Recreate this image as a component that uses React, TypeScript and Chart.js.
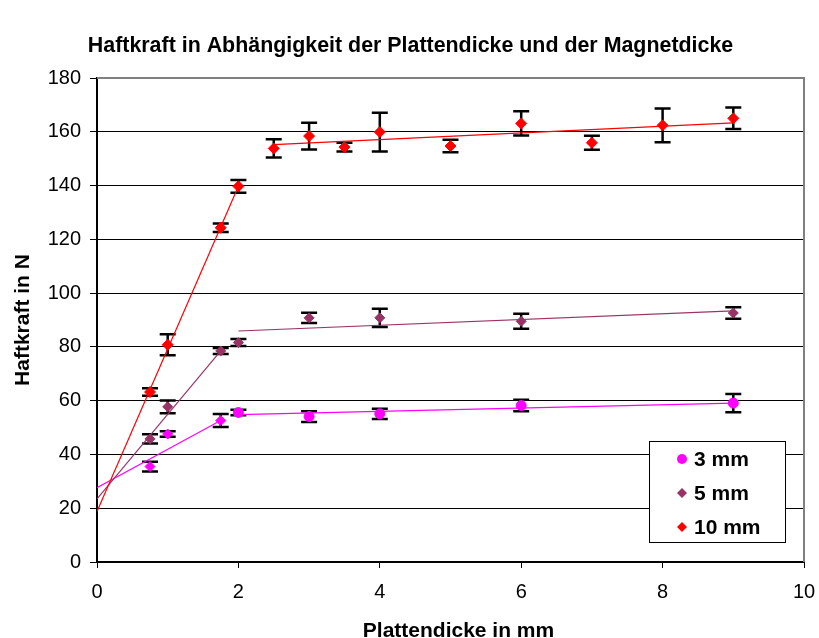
import React, { useEffect, useRef } from 'react';
import { Chart, registerables } from 'chart.js';

Chart.register(...registerables);

const FONT = "Arial, 'Liberation Sans', Helvetica, sans-serif";

const TITLE = 'Haftkraft in Abhängigkeit der Plattendicke und der Magnetdicke';
const X_TITLE = 'Plattendicke in mm';
const Y_TITLE = 'Haftkraft in N';

const SERIES_LABELS = ['3 mm', '5 mm', '10 mm'];
const SERIES_COLORS = ['#FF00FF', '#993366', '#FF0000'];

// Axis ranges / ticks
const X_TICKS = [0, 2, 4, 6, 8, 10];
const Y_TICKS = [0, 20, 40, 60, 80, 100, 120, 140, 160, 180];

// Magnet 3 mm: plate thickness (mm), holding force (N), standard deviation (N)
const thickness3 = [0.75, 1, 1.75, 2, 3, 4, 6, 9];
const force3 = [35.5, 47.6, 52.6, 55.6, 54.1, 55.1, 58.2, 59.1];
const err3 = [1.8, 1.0, 2.4, 1.0, 2.0, 1.9, 2.1, 3.4];
const marker3 = ['rectRot', 'rectRot', 'rectRot', 'circle', 'circle', 'circle', 'circle', 'circle'];

// Magnet 5 mm
const thickness5 = [0.75, 1, 1.75, 2, 3, 4, 6, 9];
const force5 = [45.8, 57.7, 78.5, 81.6, 90.8, 90.8, 89.5, 92.6];
const err5 = [1.7, 2.4, 1.1, 1.3, 1.9, 3.4, 2.8, 2.1];

// Magnet 10 mm
const thickness10 = [0.75, 1, 1.75, 2, 2.5, 3, 3.5, 4, 5, 6, 7, 8, 9];
const force10 = [63.2, 80.8, 124.3, 139.7, 153.8, 158.4, 154.3, 159.9, 154.7, 163.1, 155.9, 162.4, 165.0];
const err10 = [1.4, 3.9, 1.6, 2.4, 3.4, 5.0, 1.6, 7.2, 2.3, 4.5, 2.6, 6.3, 4.0];

// Linear trend segments: [x start, y start, x end, y end]
const trend3 = [
  [0, 27.6, 1.75, 52.6],
  [2, 54.8, 9, 59.1],
];
const trend5 = [
  [0, 23.5, 1.75, 78.5],
  [2, 85.9, 9, 93.4],
];
const trend10 = [
  [0, 18.8, 2, 139.7],
  [2.5, 155.2, 9, 163.3],
];

const toPoints = (xs: number[], ys: number[]) => xs.map((x, i) => ({ x, y: ys[i] }));

const errorBarPlugin = {
  id: 'errorBars',
  beforeDatasetsDraw(chart: any) {
    const { ctx, scales } = chart;
    const xs = scales.x;
    const ys = scales.y;
    ctx.save();
    ctx.strokeStyle = '#000';
    ctx.lineWidth = 2.5;
    chart.data.datasets.forEach((ds: any) => {
      if (!ds.errors) return;
      ds.data.forEach((p: any, i: number) => {
        const e = ds.errors[i];
        const px = xs.getPixelForValue(p.x);
        const top = ys.getPixelForValue(p.y + e);
        const bot = ys.getPixelForValue(p.y - e);
        const cap = 8;
        ctx.beginPath();
        ctx.moveTo(px, top);
        ctx.lineTo(px, bot);
        ctx.moveTo(px - cap, top);
        ctx.lineTo(px + cap, top);
        ctx.moveTo(px - cap, bot);
        ctx.lineTo(px + cap, bot);
        ctx.stroke();
      });
    });
    ctx.restore();
  },
};

const frameAndLegendPlugin = {
  id: 'frameAndLegend',
  beforeDatasetsDraw(chart: any) {
    const { ctx, chartArea } = chart;
    ctx.save();
    ctx.strokeStyle = '#808080';
    ctx.lineWidth = 2;
    ctx.beginPath();
    ctx.moveTo(chartArea.left, chartArea.top);
    ctx.lineTo(chartArea.right, chartArea.top);
    ctx.lineTo(chartArea.right, chartArea.bottom);
    ctx.stroke();
    ctx.restore();
  },
  afterDraw(chart: any) {
    const { ctx, chartArea, width } = chart;
    ctx.save();
    ctx.fillStyle = '#000';

    // chart title
    ctx.font = `bold 21.4px ${FONT}`;
    ctx.textAlign = 'center';
    ctx.textBaseline = 'middle';
    ctx.fillText(TITLE, width / 2 + 1, 46);

    // x axis title
    ctx.font = `bold 21px ${FONT}`;
    ctx.textAlign = 'center';
    ctx.textBaseline = 'alphabetic';
    ctx.fillText(X_TITLE, (chartArea.left + chartArea.right) / 2 + 8, 637);

    // legend box
    const bx = 649.5;
    const by = 441.5;
    const bw = 136;
    const bh = 101;
    ctx.fillStyle = '#fff';
    ctx.fillRect(bx, by, bw, bh);
    ctx.strokeStyle = '#000';
    ctx.lineWidth = 1;
    ctx.strokeRect(bx, by, bw, bh);

    const styles = ['circle', 'rectRot', 'rectRot'];
    SERIES_LABELS.forEach((label, i) => {
      const cy = 459 + i * 34;
      const cx = 682;
      ctx.fillStyle = SERIES_COLORS[i];
      ctx.beginPath();
      if (styles[i] === 'circle') {
        ctx.arc(cx, cy, 5, 0, Math.PI * 2);
      } else {
        const r = 5;
        ctx.moveTo(cx, cy - r);
        ctx.lineTo(cx + r, cy);
        ctx.lineTo(cx, cy + r);
        ctx.lineTo(cx - r, cy);
        ctx.closePath();
      }
      ctx.fill();
      ctx.fillStyle = '#000';
      ctx.font = `bold 21px ${FONT}`;
      ctx.textAlign = 'left';
      ctx.textBaseline = 'middle';
      ctx.fillText(label, 694, cy + 1);
    });
    ctx.restore();
  },
};

const trendDataset = (seg: number[], color: string) => ({
  type: 'line' as const,
  data: [
    { x: seg[0], y: seg[1] },
    { x: seg[2], y: seg[3] },
  ],
  borderColor: color,
  borderWidth: 1.2,
  pointRadius: 0,
  fill: false,
  showLine: true,
});

export default function App() {
  const canvasRef = useRef<HTMLCanvasElement | null>(null);

  useEffect(() => {
    document.body.style.margin = '0';
    const canvas = canvasRef.current;
    if (!canvas) return;

    const chart = new Chart(canvas, {
      type: 'scatter',
      data: {
        datasets: [
          {
            label: SERIES_LABELS[2],
            data: toPoints(thickness10, force10),
            errors: err10,
            backgroundColor: SERIES_COLORS[2],
            borderColor: SERIES_COLORS[2],
            pointStyle: 'rectRot',
            pointRadius: 5.5,
            borderWidth: 1,
          } as any,
          {
            label: SERIES_LABELS[1],
            data: toPoints(thickness5, force5),
            errors: err5,
            backgroundColor: SERIES_COLORS[1],
            borderColor: SERIES_COLORS[1],
            pointStyle: 'rectRot',
            pointRadius: 5,
            borderWidth: 1,
          } as any,
          {
            label: SERIES_LABELS[0],
            data: toPoints(thickness3, force3),
            errors: err3,
            backgroundColor: SERIES_COLORS[0],
            borderColor: SERIES_COLORS[0],
            pointStyle: marker3,
            pointRadius: 5,
            borderWidth: 1,
          } as any,
          ...trend10.map((s) => trendDataset(s, SERIES_COLORS[2])),
          ...trend5.map((s) => trendDataset(s, SERIES_COLORS[1])),
          ...trend3.map((s) => trendDataset(s, SERIES_COLORS[0])),
        ],
      },
      options: {
        responsive: false,
        animation: false,
        devicePixelRatio: 1,
        layout: { padding: { left: 0, right: 15, top: 78, bottom: 0 } },
        plugins: {
          legend: { display: false },
          tooltip: { enabled: false },
          title: { display: false },
        },
        scales: {
          x: {
            type: 'linear',
            min: X_TICKS[0],
            max: X_TICKS[X_TICKS.length - 1],
            afterBuildTicks: (scale: any) => {
              scale.ticks = X_TICKS.map((v) => ({ value: v }));
            },
            ticks: {
              color: '#000',
              font: { family: FONT, size: 20 },
              padding: 12,
              maxRotation: 0,
            },
            grid: {
              drawOnChartArea: false,
              drawTicks: true,
              tickLength: 6,
              tickColor: '#000',
              tickWidth: 1,
            },
            border: { display: true, color: '#000', width: 2 },
            afterFit: (scale: any) => {
              scale.height = 76;
              scale.paddingRight = 0;
              scale.paddingLeft = 0;
            },
          },
          y: {
            type: 'linear',
            min: Y_TICKS[0],
            max: Y_TICKS[Y_TICKS.length - 1],
            afterBuildTicks: (scale: any) => {
              scale.ticks = Y_TICKS.map((v) => ({ value: v }));
            },
            ticks: {
              color: '#000',
              font: { family: FONT, size: 20 },
              padding: 9,
            },
            grid: {
              color: '#000',
              lineWidth: 1,
              drawTicks: true,
              tickLength: 7,
              tickColor: '#000',
            },
            border: { display: true, color: '#000', width: 2 },
            title: {
              display: true,
              text: Y_TITLE,
              color: '#000',
              font: { family: FONT, size: 21, weight: 'bold' },
              padding: { top: 11, bottom: 0 },
            },
            afterFit: (scale: any) => {
              scale.width = 97;
              scale.paddingTop = 0;
            },
          },
        },
      } as any,
      plugins: [errorBarPlugin, frameAndLegendPlugin],
    });

    return () => chart.destroy();
  }, []);

  return (
    <div style={{ position: 'absolute', left: 0, top: 0, width: 819, height: 638, background: '#fff' }}>
      <canvas ref={canvasRef} width={819} height={638} />
    </div>
  );
}
